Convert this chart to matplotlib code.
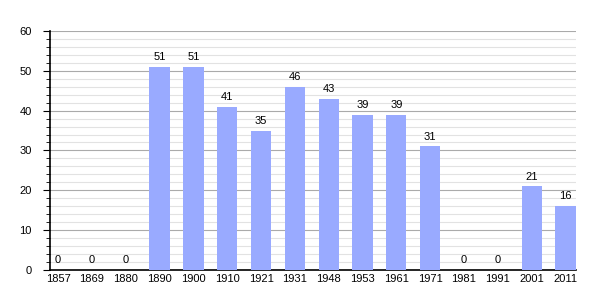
import numpy as np
import matplotlib
matplotlib.use('Agg')
import matplotlib.pyplot as plt
from matplotlib.ticker import MultipleLocator

years = ['1857', '1869', '1880', '1890', '1900', '1910', '1921', '1931',
         '1948', '1953', '1961', '1971', '1981', '1991', '2001', '2011']
population = [0, 0, 0, 51, 51, 41, 35, 46, 43, 39, 39, 31, 0, 0, 21, 16]

plt.rcParams['font.family'] = 'Liberation Sans'
fig = plt.figure(figsize=(6.05, 3.0), dpi=100)
ax = fig.add_axes([0.0826, 0.1, 0.8694, 0.797])

x = np.arange(len(years))
ax.bar(x, population, width=0.6, color='#99aaff', zorder=3)
for xi, v in zip(x, population):
    ax.text(xi, v + 1.2, str(v), ha='center', va='bottom', fontsize=8, zorder=4)

ax.set_xlim(-0.24, 15.31)
ax.set_ylim(0, 60)
ax.yaxis.set_major_locator(MultipleLocator(10))
ax.yaxis.set_minor_locator(MultipleLocator(2))
ax.grid(which='major', axis='y', color='#aaaaaa', lw=0.8, zorder=1)
ax.grid(which='minor', axis='y', color='#e2e2e2', lw=0.8, zorder=0)
ax.set_xticks(x)
ax.set_xticklabels(years)
ax.tick_params(axis='x', length=0, labelsize=8, pad=3)
ax.tick_params(axis='y', which='major', length=5, labelsize=8, pad=8)
ax.tick_params(axis='y', which='minor', length=3)
for s in ['top', 'right']:
    ax.spines[s].set_visible(False)
ax.spines['left'].set_linewidth(1.2)
ax.spines['bottom'].set_linewidth(1.2)

fig.savefig('out.png', dpi=100)
